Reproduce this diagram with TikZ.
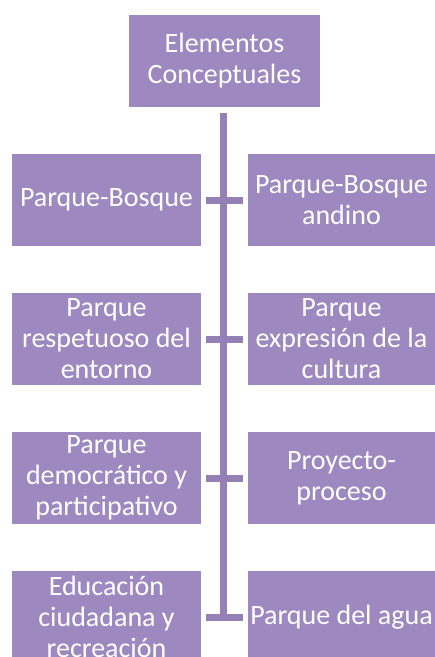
\documentclass[tikz,border=0pt]{standalone}
\usepackage{fontspec}
\setmainfont{Carlito}
\usepackage{tikz}
\definecolor{boxviolet}{HTML}{9D89C0}
\definecolor{lineviolet}{HTML}{9480B5}
\tikzset{
    box/.style={fill=boxviolet,text=white,align=center,inner sep=0pt,minimum height=92pt,font=\fontsize{28}{31}\selectfont},
    bar/.style={lineviolet,line width=7pt}
}

\begin{document}
\begin{tikzpicture}[x=1pt,y=-1pt]
                \useasboundingbox (0,0) rectangle (435,657);
                \node[box,minimum width=191pt] (top) at (224.5,61) {Elementos\\Conceptuales};

                \foreach[count=\i] \y/\ltext/\rtext in {200/{Parque-Bosque}/{Parque-Bosque\\andino},
                        339/{Parque\\respetuoso del\\entorno}/{Parque\\expresión de la\\cultura},
                        478/{Parque\\democrático y\\participativo}/{Proyecto-\\proceso},
                        617/{Educación\\ciudadana y\\recreación}/{Parque del agua}} {
                    \node[box,minimum width=189pt] (l\i) at (106.5,\y) {\ltext};
                    \node[box,minimum width=187pt] (r\i) at (341.5,\y) {\rtext};
                    \draw[bar] ([xshift=5pt]l\i.east) -- ([xshift=-5pt]r\i.west);
                }

                \coordinate (stemend) at ([yshift=-3.5pt]top.south |- l4.east);
                \draw[bar] ([yshift=-6pt,xshift=-1pt]top.south) -- ([xshift=-1pt]stemend);
            \end{tikzpicture}
\end{document}
